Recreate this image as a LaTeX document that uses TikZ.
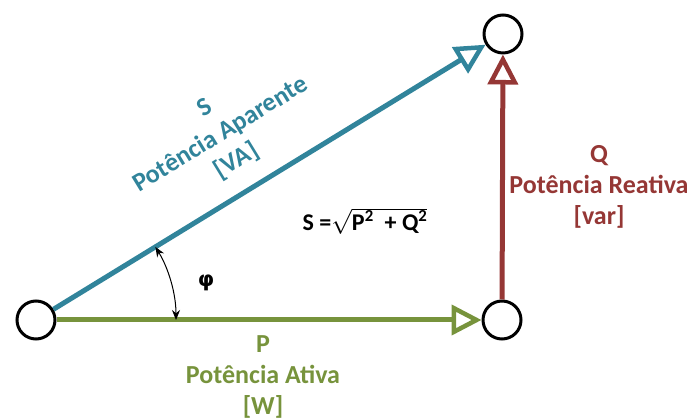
\documentclass[tikz,border=0pt]{standalone}
\usepackage{fontspec}
\setmainfont{Carlito}
\usetikzlibrary{arrows.meta}
\definecolor{cblue}{HTML}{31849B}
\definecolor{cred}{HTML}{953735}
\definecolor{cgreen}{HTML}{77933C}
\begin{document}
\begin{tikzpicture}[x=1pt,y=1pt,
  pt/.style={circle,draw=black,line width=3pt,minimum size=38pt,inner sep=0pt,fill=white},
  vec/.style={line width=5pt,-{Triangle[open,length=30pt,width=30pt,line width=4.5pt]}},
  lab/.style={font=\fontsize{26}{31}\selectfont\bfseries,align=center},
  ang/.style={line width=1pt,{Stealth[length=10pt,width=8pt]}-{Stealth[length=10pt,width=8pt]}}]
\useasboundingbox (0,0) rectangle (700,419);
\node[pt] (l) at (36,99) {};
\node[pt] (r) at (502,99) {};
\node[pt] (t) at (503,385) {};
\draw[vec,cgreen] (l) -- (r);
\draw[vec,cblue] (l) -- (t);
\draw[vec,cred] (r) -- (t);
\draw[ang] (l.center) ++(31.48:140) coordinate (a1) arc[start angle=31.48,end angle=0,radius=140] coordinate (a2);
\node[lab,text=cblue,rotate=31.48] (slab) at (221,284) {S\\Potência Aparente\\{[VA]}};
\node[lab,text=cred] (qlab) at (599,232) {Q\\Potência Reativa\\{[var]}};
\node[lab,text=cgreen] (plab) at (263,42) {P\\Potência Ativa\\{[W]}};
\node[lab] (phi) at (206,136) {\fontspec{DejaVu Sans}\fontsize{21}{24}\selectfont\bfseries φ};
\node[lab,font=\fontsize{24}{28}\selectfont\bfseries] (eq) at (365,198) {S =$\sqrt{\mbox{P\textsuperscript{2}\ \ + Q\textsuperscript{2}}}$};
\end{tikzpicture}
\end{document}
